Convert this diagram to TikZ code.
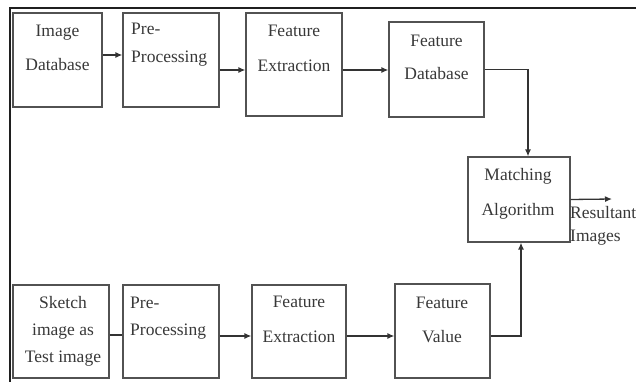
\documentclass[tikz,border=0pt]{standalone}
\usepackage{fontspec}
\setmainfont{Liberation Serif}
\usetikzlibrary{positioning,arrows.meta,calc}

\tikzset{
  box/.style={draw=black!68, line width=1.2pt, inner sep=0pt,
    minimum width=96pt, minimum height=94pt},
  txt/.style={text=black!78, inner sep=0pt, anchor=base, align=center,
    font=\fontsize{17.5}{27}\selectfont},
  arr/.style={draw=black!80, line width=1.3pt, -{Latex[length=7pt,width=6pt]}},
  lnk/.style={draw=black!80, line width=1.3pt},
  frame/.style={draw=black!88, line width=2pt}
}

\begin{document}
\begin{tikzpicture}[x=1pt,y=-1pt]
\useasboundingbox (0,0) rectangle (636,382);
\clip (0,0) rectangle (636,382);
\draw[frame] (10,8) rectangle (660,400);

% upper row
\node[box, minimum width=89pt] (imgdb) at (57.5,60) {};
\node[box] (pre1) at (171,60) {};
\node[box, minimum height=103pt] (fe1) at (294,64.5) {};
\node[box, minimum width=95pt, minimum height=95pt] (fdb) at (436.5,69.5) {};
\node[box, minimum width=102pt, minimum height=85pt] (match) at (519,199.5) {};

% lower row
\node[box, minimum height=93pt] (sketch) at (61,331.5) {};
\node[box, minimum height=93pt] (pre2) at (171,331.5) {};
\node[box, minimum width=94pt, minimum height=93pt] (fe2) at (299,331.5) {};
\node[box, minimum width=95pt] (fval) at (442.5,331) {};

% texts (anchored on the last line)
\node[txt] (imgdb-t) at (57.5,71) {Image\\[7pt]Database};
\node[txt, anchor=base west, align=left] (pre1-t) at (131,63) {Pre-\\[1pt]Processing};
\node[txt] (fe1-t) at (294,72) {Feature\\[8pt]Extraction};
\node[txt] (fdb-t) at (436.5,80) {Feature\\[6pt]Database};
\node[txt] (match-t) at (518,215) {Matching\\[8pt]Algorithm};
\node[txt] (sketch-t) at (63,362) {Sketch\\image as\\Test image};
\node[txt, anchor=base west, align=left] (pre2-t) at (130,335) {Pre-\\Processing};
\node[txt] (fe2-t) at (299,342) {Feature\\[8pt]Extraction};
\node[txt] (fval-t) at (442,342) {Feature\\[7pt]Value};
\node[txt, anchor=base west, align=left] (res-t) at (570,241) {Resultant\\[-4pt]Images};

\coordinate (res) at (612,199);

% connectors
\draw[arr] ([yshift=5pt]imgdb.east) -- ([yshift=5pt]imgdb.east -| pre1.west);
\draw[arr] ([yshift=-10pt]pre1.east) -- ([yshift=-10pt]pre1.east -| fe1.west);
\draw[arr] ([yshift=-5.5pt]fe1.east) -- ([yshift=-5.5pt]fe1.east -| fdb.west);
\draw[arr] (fdb.east) -| ([xshift=9pt]match.north);
\draw[arr] (match.east) -- (res);
\draw[lnk] ([yshift=-3.5pt]sketch.east) -- ([yshift=-3.5pt]sketch.east -| pre2.west);
\draw[arr] ([yshift=-4.5pt]pre2.east) -- ([yshift=-4.5pt]pre2.east -| fe2.west);
\draw[arr] ([yshift=-4.5pt]fe2.east) -- ([yshift=-4.5pt]fe2.east -| fval.west);
\draw[arr] ([yshift=-5pt]fval.east) -| ([xshift=2pt]match.south);
\end{tikzpicture}
\end{document}
